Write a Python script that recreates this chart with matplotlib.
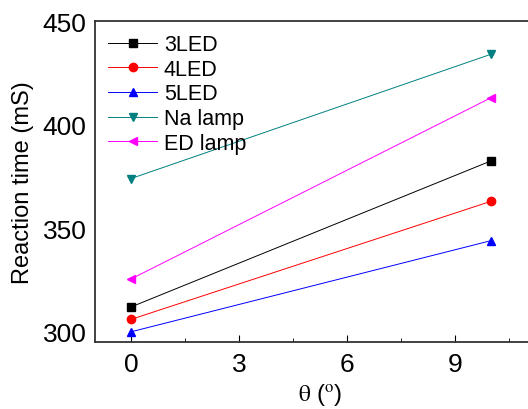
import matplotlib
matplotlib.use('Agg')
import matplotlib.pyplot as plt
from matplotlib.ticker import MultipleLocator

plt.rcParams['font.family'] = ['Liberation Sans', 'DejaVu Sans']
plt.rcParams['mathtext.fontset'] = 'stix'

theta = [0, 10]
labels = ['3LED', '4LED', '5LED', 'Na lamp', 'ED lamp']
led3 = [312, 382.5]
led4 = [306, 363]
led5 = [300, 344]
na_lamp = [374, 434]
ed_lamp = [325.5, 413]
series = [led3, led4, led5, na_lamp, ed_lamp]

colors = ['black', 'red', 'blue', '#008080', '#ff00ff']
markers = ['s', 'o', '^', 'v', '<']

fig = plt.figure(figsize=(5.28, 4.10), dpi=100)
ax = fig.add_axes([0.18, 0.163, 0.852, 0.783])

for vals, lab, c, m in zip(series, labels, colors, markers):
    ax.plot(theta, vals, color=c, marker=m, markersize=6, linewidth=0.7, label=lab)

ax.set_xlim(-1, 11.5)
ax.set_ylim(295, 450)
ax.xaxis.set_major_locator(MultipleLocator(3))
ax.xaxis.set_minor_locator(MultipleLocator(1.5))
ax.yaxis.set_major_locator(MultipleLocator(50))
ax.tick_params(axis='x', which='both', direction='in', labelsize=19, pad=7)
ax.tick_params(axis='x', which='major', length=5)
ax.tick_params(axis='x', which='minor', length=3)
ax.tick_params(axis='y', length=0, labelsize=19, pad=6)
for s in ax.spines.values():
    s.set_linewidth(1.3)
    s.set_color('#333333')

ax.set_xlabel(r'$\mathrm{\theta}$ ($^{\mathrm{o}}$)', fontsize=17, labelpad=4)
ax.set_ylabel('Reaction time (mS)', fontsize=17, labelpad=6)

ax.legend(loc='upper left', frameon=False, fontsize=15.5, handlelength=2.3,
          handletextpad=0.3, labelspacing=0.17, borderaxespad=0.2)

fig.savefig('out.png', dpi=100)
